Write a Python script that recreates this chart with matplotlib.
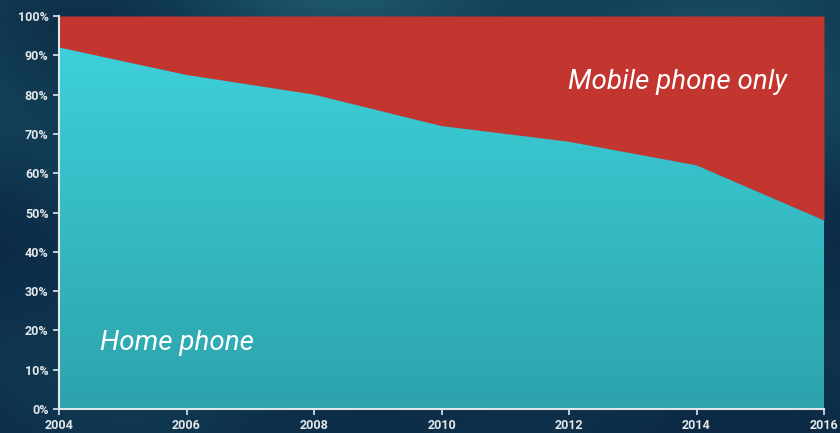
import numpy as np
import matplotlib.pyplot as plt
from matplotlib.ticker import FuncFormatter

# data
years = [2004, 2006, 2008, 2010, 2012, 2014, 2016]
home_phone = [92, 85, 80, 72, 68, 62, 48]

# colors
col_bg = '#0f3850'
col_red = '#c33630'
col_text = '#e4e8ea'

fig = plt.figure(figsize=(8.4, 4.33), dpi=100)
fig.patch.set_facecolor(col_bg)

# textured-ish background gradient
bg = fig.add_axes([0, 0, 1, 1], zorder=-1)
gy, gx = np.mgrid[0:1:200j, 0:1:400j]
tex = 0.5 + 0.25*np.sin(gx*9 + gy*4) * np.cos(gy*7 - gx*3)
tex = tex * (0.45 + 0.55*gy)
bg.imshow(tex, cmap=plt.matplotlib.colors.LinearSegmentedColormap.from_list('b', ['#0a1f3c', '#13435a', '#2a6e80']),
          extent=[0, 1, 0, 1], aspect='auto', origin='lower', vmin=0, vmax=1)
bg.axis('off')

ax = fig.add_axes([59/840, 24/433, 765/840, 393/433])
ax.set_facecolor('none')

x = np.array(years)
y = np.array(home_phone)

# mobile only (top area)
ax.fill_between(x, y, 100, color=col_red, linewidth=0)

# home phone with vertical gradient
poly = ax.fill_between(x, 0, y, color='none', linewidth=0)
grad = np.linspace(0, 1, 256).reshape(-1, 1)
cmap = plt.matplotlib.colors.LinearSegmentedColormap.from_list('t', ['#2da3ac', '#3fd4dd'])
im = ax.imshow(grad, cmap=cmap, extent=[2004, 2016, 0, 100], aspect='auto', origin='lower', zorder=1)
im.set_clip_path(poly.get_paths()[0], transform=ax.transData)

ax.set_xlim(2004, 2016)
ax.set_ylim(0, 100)
ax.set_xticks(years)
ax.set_yticks(range(0, 101, 10))
ax.yaxis.set_major_formatter(FuncFormatter(lambda v, p: f'{int(v)}%'))

for s in ['top', 'right']:
    ax.spines[s].set_visible(False)
for s in ['left', 'bottom']:
    ax.spines[s].set_color('#dfe6ea')
    ax.spines[s].set_linewidth(1.5)
    ax.spines[s].set_zorder(5)

ax.tick_params(colors='#dfe6ea', length=4, width=1.2)
for lab in ax.get_xticklabels() + ax.get_yticklabels():
    lab.set_fontfamily('Roboto')
    lab.set_fontweight('bold')
    lab.set_fontsize(9)
    lab.set_color(col_text)

ax.text(2004.64, 16.8, 'Home phone', fontfamily='Roboto', style='italic', fontsize=20,
        color='white', va='center', ha='left', zorder=6)
ax.text(2011.98, 83.1, 'Mobile phone only', fontfamily='Roboto', style='italic', fontsize=20,
        color='white', va='center', ha='left', zorder=6)

fig.savefig('out.png', dpi=100, facecolor=fig.get_facecolor())
